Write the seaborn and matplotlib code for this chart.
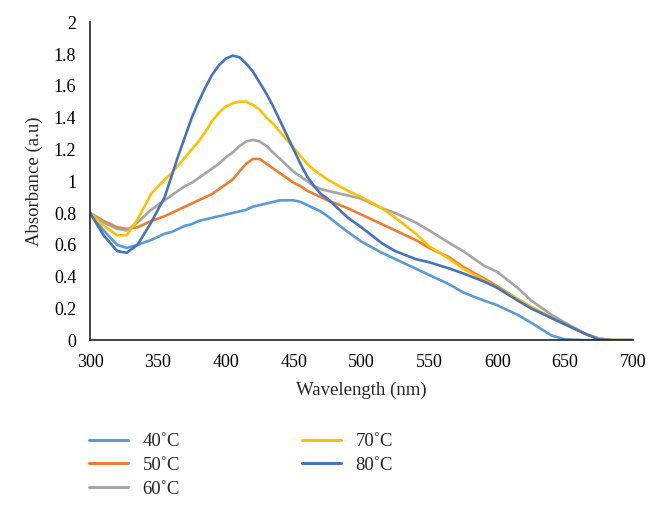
import pandas as pd
import numpy as np
import matplotlib
matplotlib.use('Agg')
import matplotlib.pyplot as plt
import seaborn as sns

# Wavelength grid (nm) and absorbance
wavelength = [300, 310, 320, 327, 335, 345, 355, 360, 365, 370, 375, 380, 385, 390,
              395, 400, 405, 410, 415, 420, 425, 430, 435, 440, 445, 450, 455, 460,
              465, 470, 475, 490, 500, 515, 525, 540, 550, 565, 575, 590, 600, 615,
              625, 640, 650, 665, 675, 685, 700]

abs_40 = [0.80, 0.69, 0.60, 0.58, 0.60, 0.63, 0.67, 0.68, 0.70, 0.72, 0.73, 0.75, 0.76, 0.77,
          0.78, 0.79, 0.80, 0.81, 0.82, 0.84, 0.85, 0.86, 0.87, 0.88, 0.88, 0.88, 0.87, 0.85,
          0.83, 0.81, 0.78, 0.68, 0.62, 0.55, 0.51, 0.45, 0.41, 0.35, 0.30, 0.25, 0.22, 0.16,
          0.11, 0.03, 0.005, 0.0, 0.0, 0.0, 0.0]
abs_50 = [0.80, 0.75, 0.71, 0.70, 0.71, 0.75, 0.78, 0.80, 0.82, 0.84, 0.86, 0.88, 0.90, 0.92,
          0.95, 0.98, 1.01, 1.06, 1.11, 1.14, 1.14, 1.11, 1.08, 1.05, 1.02, 0.99, 0.97, 0.94,
          0.92, 0.90, 0.88, 0.83, 0.79, 0.73, 0.69, 0.63, 0.58, 0.52, 0.46, 0.39, 0.34, 0.26,
          0.21, 0.14, 0.10, 0.04, 0.01, 0.0, 0.0]
abs_60 = [0.80, 0.74, 0.70, 0.69, 0.74, 0.82, 0.88, 0.91, 0.94, 0.97, 0.99, 1.02, 1.05, 1.08,
          1.11, 1.15, 1.18, 1.22, 1.25, 1.26, 1.25, 1.22, 1.18, 1.14, 1.10, 1.06, 1.03, 1.00,
          0.97, 0.95, 0.94, 0.91, 0.89, 0.83, 0.80, 0.74, 0.69, 0.61, 0.56, 0.47, 0.43, 0.33,
          0.25, 0.16, 0.11, 0.04, 0.01, 0.0, 0.0]
abs_70 = [0.80, 0.72, 0.66, 0.66, 0.76, 0.92, 1.01, 1.05, 1.10, 1.15, 1.20, 1.25, 1.31, 1.38,
          1.43, 1.47, 1.49, 1.50, 1.50, 1.48, 1.45, 1.40, 1.36, 1.31, 1.26, 1.21, 1.16, 1.11,
          1.07, 1.04, 1.01, 0.94, 0.90, 0.83, 0.77, 0.67, 0.59, 0.51, 0.45, 0.38, 0.33, 0.26,
          0.21, 0.14, 0.10, 0.04, 0.01, 0.0, 0.0]
abs_80 = [0.80, 0.66, 0.56, 0.55, 0.60, 0.74, 0.90, 1.03, 1.16, 1.28, 1.40, 1.50, 1.59, 1.67,
          1.73, 1.77, 1.79, 1.78, 1.74, 1.69, 1.62, 1.55, 1.47, 1.38, 1.29, 1.20, 1.11, 1.03,
          0.97, 0.92, 0.89, 0.77, 0.71, 0.61, 0.56, 0.51, 0.49, 0.45, 0.42, 0.37, 0.33, 0.25,
          0.20, 0.14, 0.10, 0.04, 0.005, 0.0, 0.0]

labels = ['40˚C', '50˚C', '60˚C', '70˚C', '80˚C']
colors = ['#5B9BD5', '#ED7D31', '#A5A5A5', '#FFC000', '#4472C4']

# long-form table for seaborn
frames = []
for lab, vals in zip(labels, [abs_40, abs_50, abs_60, abs_70, abs_80]):
    frames.append(pd.DataFrame({'Wavelength': wavelength, 'Absorbance': vals, 'Temp': lab}))
df = pd.concat(frames, ignore_index=True)

sns.set_style('white')
plt.rcParams['font.family'] = ['Liberation Serif', 'DejaVu Serif']

fig = plt.figure(figsize=(6.62, 5.17), dpi=100)
ax = fig.add_axes([0.136, 0.342, 0.820, 0.615])

sns.lineplot(data=df, x='Wavelength', y='Absorbance', hue='Temp', hue_order=labels,
             palette=colors, linewidth=1.9, ax=ax, legend=False, sort=False)
for ln in ax.lines:
    ln.set_solid_joinstyle('round')
    ln.set_solid_capstyle('round')

ax.set_xlim(300, 700)
ax.set_ylim(0, 2)
ax.set_xticks(np.arange(300, 701, 50))
ax.set_yticks(np.arange(0, 2.01, 0.2))
ax.set_yticklabels(['0', '0.2', '0.4', '0.6', '0.8', '1', '1.2', '1.4', '1.6', '1.8', '2'])
ax.tick_params(axis='both', direction='out', length=6, width=1, color='#222222',
               labelsize=13, labelcolor='black', pad=4)
for s in ['top', 'right']:
    ax.spines[s].set_visible(False)
for s in ['left', 'bottom']:
    ax.spines[s].set_color('#222222')
    ax.spines[s].set_linewidth(1.2)

ax.set_xlabel('Wavelength (nm)', fontsize=13.5, labelpad=8)
ax.set_ylabel('Absorbance (a.u)', fontsize=13.5, labelpad=8)

handles = [plt.Line2D([], [], color=c, linewidth=2.2) for c in colors]
fig.legend(handles, labels, loc='upper left', bbox_to_anchor=(0.109, 0.195),
           ncol=2, frameon=False, fontsize=13.5, handlelength=2.1,
           columnspacing=6.5, labelspacing=0.35, handletextpad=0.75)

plt.savefig('out.png', dpi=100)
plt.close()
